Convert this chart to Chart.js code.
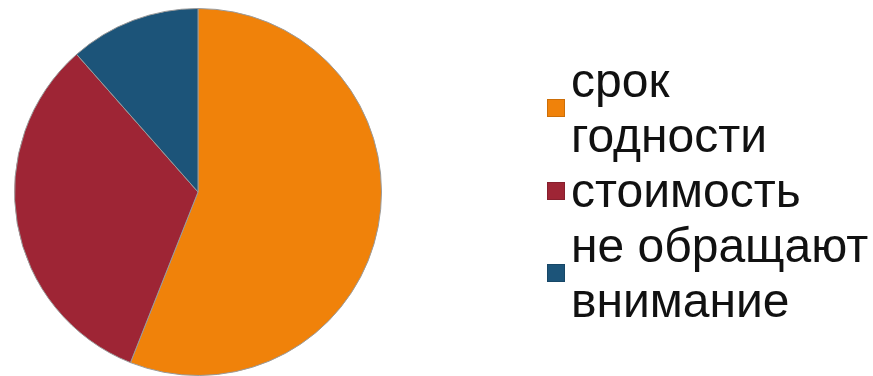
<!DOCTYPE html>
<html lang="ru">
<head>
  <meta charset="UTF-8">
  <title>Pie</title>
  <script src="https://cdn.jsdelivr.net/npm/chart.js"></script>
  <style>
    html, body { margin: 0; padding: 0; background: #fff; }
    .wrap { position: relative; width: 873px; height: 376px; }
    .legend {
      position: absolute; left: 547px; top: 53px;
      font-family: "Liberation Sans", Arial, sans-serif;
      font-size: 48px; line-height: 55px; color: #111;
    }
    .legend-item { display: flex; align-items: center; }
    .legend-box { width: 18px; height: 18px; margin-right: 6px; box-sizing: border-box; border: 1px solid rgba(0,0,0,0.15); flex: none; }
  </style>
</head>
<body>
  <div class="wrap">
    <canvas id="pie" width="873" height="376"></canvas>
    <div class="legend" id="legend"></div>
  </div>

  <script>
  // данные
  const categories = [['срок', 'годности'], ['стоимость'], ['не обращают', 'внимание']];
  const values = [56, 32.5, 11.5];
  const colors = ['#f0820a', '#9e2535', '#1c5479'];

  const chart = new Chart(document.getElementById('pie'), {
    type: 'pie',
    data: {
      labels: categories,
      datasets: [{ data: values, backgroundColor: colors, borderColor: '#9a9a9a', borderWidth: 1 }]
    },
    options: {
      responsive: false,
      animation: false,
      layout: { padding: { left: 14, top: 8, right: 491, bottom: 0 } },
      plugins: { legend: { display: false }, tooltip: { enabled: false } }
    }
  });

  // html-легенда
  const items = chart.options.plugins.legend.labels.generateLabels(chart);
  document.getElementById('legend').innerHTML = items.map(it => {
    const lines = Array.isArray(it.text) ? it.text : [it.text];
    return `<div class="legend-item"><span class="legend-box" style="background:${it.fillStyle}"></span><span>${lines.join('<br>')}</span></div>`;
  }).join('');
  </script>
</body>
</html>
